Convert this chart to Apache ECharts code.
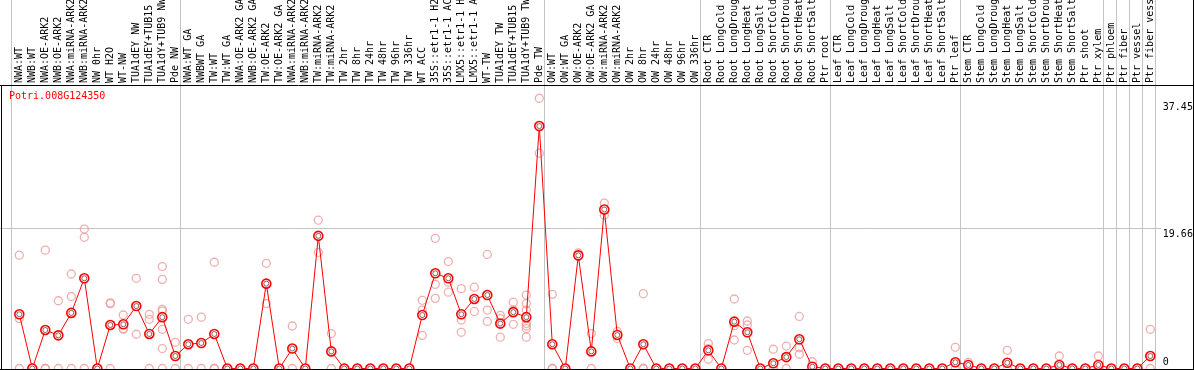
<!DOCTYPE html>
<html>
<head>
<meta charset="utf-8">
<script src="https://cdn.jsdelivr.net/npm/echarts@6/dist/echarts.min.js"></script>
<style>
html,body{margin:0;padding:0;background:#fff;}
#chart{width:1194px;height:370px;}
</style>
</head>
<body>
<div id="chart"></div>
<script>
// ---- data ----
const geneName = 'Potri.008G124350';
const categories = [
  'NWA:WT','NWB:WT','NWA:OE-ARK2','NWB:OE-ARK2','NWA:miRNA-ARK2','NWB:miRNA-ARK2','NW 0hr','WT H2O','WT-NW',
  'TUA1dEY NW','TUA1dEY+TUB15 NW','TUA1dY+TUB9 NW','Pde NW',
  'NWA:WT GA','NWBWT GA','TW:WT','TW:WT GA','NWA:OE-ARK2 GA','NWB:OE-ARK2 GA','TW:OE-ARK2','TW:OE-ARK2 GA',
  'NWA:miRNA-ARK2','NWB:miRNA-ARK2','TW:miRNA-ARK2','TW:miRNA-ARK2','TW 2hr','TW 8hr','TW 24hr','TW 48hr','TW 96hr','TW 336hr',
  'WT ACC','35S::etr1-1 H2O','35S::etr1-1 ACC','LMX5::etr1-1 H2O','LMX5::etr1-1 ACC','WT-TW','TUA1dEY TW','TUA1dEY+TUB15 TW','TUA1dY+TUB9 TW','Pde TW',
  'OW:WT','OW:WT GA','OW:OE-ARK2','OW:OE-ARK2 GA','OW:miRNA-ARK2','OW:miRNA-ARK2','OW 2hr','OW 8hr','OW 24hr','OW 48hr','OW 96hr','OW 336hr',
  'Root CTR','Root LongCold','Root LongDrought','Root LongHeat','Root LongSalt','Root ShortCold','Root ShortDrought','Root ShortHeat','Root ShortSalt','Ptr root',
  'Leaf CTR','Leaf LongCold','Leaf LongDrought','Leaf LongHeat','Leaf LongSalt','Leaf ShortCold','Leaf ShortDrought','Leaf ShortHeat','Leaf ShortSalt','Ptr leaf',
  'Stem CTR','Stem LongCold','Stem LongDrought','Stem LongHeat','Stem LongSalt','Stem ShortCold','Stem ShortDrought','Stem ShortHeat','Stem ShortSalt','Ptr shoot',
  'Ptr xylem','Ptr phloem','Ptr fiber','Ptr vessel','Ptr fiber vessel'
];
const means = [
  7.6, 0, 5.4, 4.65, 7.8, 12.65, 0, 6.1, 6.2,
  8.76, 4.84, 7.2, 1.75,
  3.4, 3.57, 4.84, 0, 0, 0, 11.9, 0,
  2.8, 0, 18.6, 2.4, 0, 0, 0, 0, 0, 0,
  7.5, 13.35, 12.65, 7.6, 9.75, 10.3, 6.3, 7.9, 7.2, 34.0,
  3.4, 0, 15.87, 2.4, 22.3, 4.7, 0, 3.4, 0, 0, 0, 0,
  2.55, 0, 6.57, 5.08, 0, 0.73, 1.6, 4.1, 0.25, 0,
  0, 0, 0, 0, 0, 0, 0, 0, 0, 0.87,
  0.5, 0, 0, 0.8, 0, 0, 0, 0.5, 0, 0,
  0.5, 0, 0, 0, 1.75
];
const replicates = [
  [15.9, 7.0, 0], [0, 0], [16.6, 0, 0], [9.5, 0], [13.25, 10.1, 0], [19.56, 18.4, 0], [0, 0], [9.2, 9.1, 0], [7.5, 5.5, 5.6],
  [12.65, 4.8], [7.6, 6.9, 0], [14.3, 12.5, 8.3, 8.06, 5.5, 2.8, 0], [3.67, 0],
  [6.9, 0], [7.2, 0], [14.9, 0, 0], [0, 0], [0, 0], [0, 0], [14.75, 9.1], [0, 0],
  [5.96, 0], [0, 0], [20.8, 16.3], [4.9, 0], [0, 0], [0, 0], [0, 0], [0, 0], [0, 0], [0, 0],
  [9.56, 8.2, 4.65], [18.26, 11.8, 9.84], [15.0, 12.1, 10.7], [11.2, 6.8, 5.08], [11.4, 8.0], [16.0, 8.2, 6.6], [7.46, 4.4, 7.0], [9.3, 8.2, 6.2], [10.3, 9.1, 8.2, 6.3, 5.96, 5.6, 4.4], [37.9, 30.2],
  [10.4, 0, 0], [0, 0], [16.2, 15.7], [4.9, 0], [23.2, 21.5], [5.2, 4.2], [0, 0], [10.5, 0, 0], [0, 0], [0, 0], [0, 0], [0, 0],
  [3.5, 1.3, 2.8], [0, 0], [9.75, 4.0, 6.0], [6.66, 6.1, 2.55], [0, 0], [2.7, 0, 0], [3.15, 0], [7.3, 2.9, 2.0], [0.95, 0], [0, 0],
  [0, 0], [0, 0], [0, 0], [0, 0], [0, 0], [0, 0], [0, 0], [0, 0], [0, 0], [2.97, 0],
  [0.87, 0.2], [0, 0], [0, 0], [2.55, 0], [0, 0], [0, 0], [0, 0], [1.75, 0], [0, 0], [0, 0],
  [1.75, 0], [0, 0], [0, 0], [0, 0], [5.5, 0]
];
// category index after which a group separator is drawn (-1 = before first)
const groupBreaks = [-1, 12, 40, 52, 62, 72, 83, 84, 85, 86, 87];
const yTickValues = [0, 19.66, 37.45];
const yGridValue = 19.66;
const yMax = 39.76;

// ---- build ----
const FONT = '"DejaVu Sans Mono", "Liberation Mono", monospace';
const meanData = means.map((v, i) => [i, v]);
const repData = [];
replicates.forEach((arr, i) => arr.forEach(v => repData.push([i, v])));
const breakData = groupBreaks.map(b => [b + 0.38, 0]);

const chart = echarts.init(document.getElementById('chart'), null, {renderer: 'canvas'});
const option = {
  animation: false,
  backgroundColor: '#ffffff',
  title: {
    text: geneName, left: 9, top: 91, padding: 0,
    textStyle: {color: '#ff0000', fontSize: 10, fontWeight: 'normal', fontFamily: FONT}
  },
  grid: {left: 12.8, right: 37.2, top: 85, bottom: 1.5, containLabel: false, outerBoundsMode: 'none'},
  xAxis: [
    {type: 'value', min: -0.5, max: 87.5, show: false},
    {type: 'category', position: 'top', data: categories, boundaryGap: true,
     axisLine: {show: false}, axisTick: {show: false}, splitLine: {show: false},
     axisLabel: {interval: 0, rotate: -90, margin: 2, fontSize: 10, fontFamily: FONT, color: '#000', hideOverlap: false}}
  ],
  yAxis: {
    type: 'value', min: 0, max: yMax, position: 'right',
    axisLine: {show: false}, axisTick: {show: false}, splitLine: {show: false},
    axisLabel: {
      customValues: yTickValues, margin: 6, fontSize: 10, fontFamily: FONT, color: '#000',
      formatter: v => v === 0 ? '{b|0}' : '{t|' + v + '}',
      rich: {
        t: {fontSize: 10, fontFamily: FONT, color: '#000', padding: [12, 0, 0, 0]},
        b: {fontSize: 10, fontFamily: FONT, color: '#000', padding: [0, 0, 12, 0]}
      }
    }
  },
  series: [
    {
      type: 'custom', name: 'groups', xAxisIndex: 0, yAxisIndex: 0, clip: false, silent: true, z: 1,
      data: breakData,
      renderItem: (params, api) => {
        const x = Math.round(api.coord([api.value(0), 0])[0]) + 0.5;
        return {type: 'line', shape: {x1: x, y1: 0, x2: x, y2: 369}, style: {stroke: '#c4c4c4', lineWidth: 1}};
      }
    },
    {
      type: 'custom', name: 'hgrid', xAxisIndex: 0, yAxisIndex: 0, clip: false, silent: true, z: 1,
      data: [[0, yGridValue]],
      renderItem: (params, api) => {
        const y = Math.round(api.coord([0, api.value(1)])[1]) + 0.5;
        return {type: 'line', shape: {x1: 0, y1: y, x2: 1161, y2: y}, style: {stroke: '#c4c4c4', lineWidth: 1}};
      }
    },
    {
      type: 'scatter', name: 'replicates', xAxisIndex: 0, yAxisIndex: 0, clip: false, z: 2,
      data: repData, symbol: 'circle', symbolSize: 8,
      itemStyle: {color: 'rgba(0,0,0,0)', borderColor: '#ee9a9a', borderWidth: 1.3}
    },
    {
      type: 'line', name: 'mean', xAxisIndex: 0, yAxisIndex: 0, clip: false, z: 3,
      data: meanData, symbol: 'circle', symbolSize: 9, showSymbol: true,
      lineStyle: {color: '#ff0000', width: 1},
      itemStyle: {color: '#ffffff', borderColor: '#ff0000', borderWidth: 1.6}
    },
    {
      type: 'scatter', name: 'meanInner', xAxisIndex: 0, yAxisIndex: 0, clip: false, z: 4, silent: true,
      data: meanData, symbol: 'circle', symbolSize: 5,
      itemStyle: {color: 'rgba(0,0,0,0)', borderColor: 'rgba(60,0,0,0.75)', borderWidth: 1}
    }
  ],
  graphic: [
    {type: 'line', shape: {x1: 0, y1: 85.5, x2: 1194, y2: 85.5}, style: {stroke: '#000', lineWidth: 1}, z: 10},
    {type: 'line', shape: {x1: 0, y1: 369.5, x2: 1194, y2: 369.5}, style: {stroke: '#000', lineWidth: 1}, z: 10},
    {type: 'line', shape: {x1: 1.5, y1: 85, x2: 1.5, y2: 370}, style: {stroke: '#000', lineWidth: 1}, z: 10},
    {type: 'line', shape: {x1: 1193.5, y1: 0, x2: 1193.5, y2: 370}, style: {stroke: '#000', lineWidth: 1}, z: 10}
  ]
};
chart.setOption(option);
</script>
</body>
</html>
